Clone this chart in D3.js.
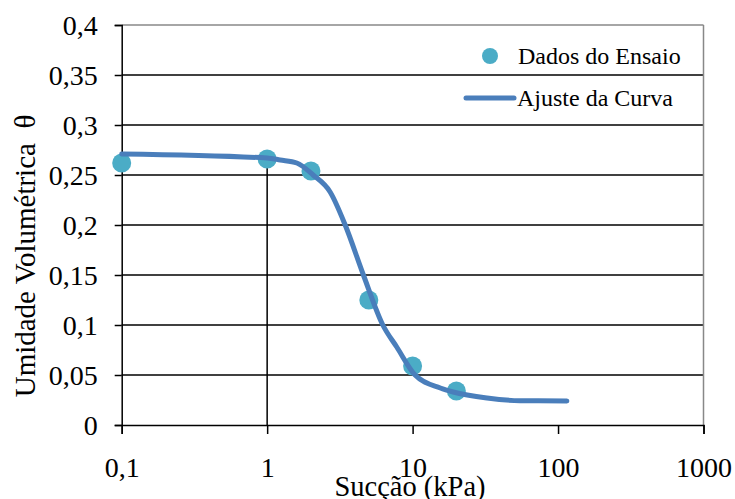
<!DOCTYPE html>
<html>
<head>
<meta charset="utf-8">
<script src="https://cdn.jsdelivr.net/npm/d3@7"></script>
<style>
  html, body { margin: 0; padding: 0; background: #fff; }
  svg { display: block; }
</style>
</head>
<body>
<svg id="chart" width="735" height="499"></svg>
<script>
// Measured soil-water retention points
const suctionData = [0.1, 1, 2, 5, 10, 20];
const thetaData = [0.262, 0.266, 0.254, 0.125, 0.059, 0.034];

// Fitted retention curve (suction in kPa, volumetric water content)
const fitSuction = [0.1, 1, 1.23, 1.6, 2.07, 2.71, 3.44, 4.59, 6.24, 7.78, 10.4, 15.5, 19, 32.5, 54.8, 115];
const fitTheta = [0.271, 0.267, 0.265, 0.262, 0.25, 0.233, 0.2, 0.15, 0.1, 0.078, 0.05, 0.037, 0.033, 0.027, 0.0243, 0.024];

// Axis ticks
const xTicks = [0.1, 1, 10, 100, 1000];
const xTickLabels = ["0,1", "1", "10", "100", "1000"];
const yTicks = [0, 0.05, 0.1, 0.15, 0.2, 0.25, 0.3, 0.35, 0.4];
const yTickLabels = ["0", "0,05", "0,1", "0,15", "0,2", "0,25", "0,3", "0,35", "0,4"];

const legendLabels = ["Dados do Ensaio", "Ajuste da Curva"];

const serif = '"Liberation Serif"';

const svg = d3.select("#chart");
const m = { left: 121.7, right: 703.5, top: 25, bottom: 425 };

const x = d3.scaleLog().domain([0.1, 1000]).range([m.left, m.right]);
const y = d3.scaleLinear().domain([0, 0.4]).range([m.bottom, m.top]);

const markerColor = "#4BACC6";
const lineColor = "#4A7EBB";

// Horizontal gridlines
svg.append("g")
  .selectAll("line")
  .data(yTicks.filter(d => d > 0))
  .join("line")
  .attr("x1", m.left).attr("x2", m.right)
  .attr("y1", d => y(d)).attr("y2", d => y(d))
  .attr("stroke", d => d === 0.4 ? "#888" : "#000")
  .attr("stroke-width", 1.5);

// Right border of the plot area
svg.append("line")
  .attr("x1", m.right).attr("x2", m.right)
  .attr("y1", m.top).attr("y2", m.bottom)
  .attr("stroke", "#888").attr("stroke-width", 1.5);

// Y axis
const yAxis = svg.append("g")
  .attr("transform", `translate(${m.left},0)`)
  .call(d3.axisLeft(y).tickValues(yTicks)
    .tickFormat((d, i) => yTickLabels[i]).tickSize(7).tickPadding(3));
yAxis.select(".domain").attr("stroke", "#000").attr("stroke-width", 1.5);
yAxis.selectAll(".tick line").attr("stroke", "#000").attr("stroke-width", 1.5);
yAxis.selectAll(".tick text")
  .style("font-family", serif)
  .style("font-size", "28px")
  .attr("fill", "#000")
  .attr("dy", "0.34em")
  .attr("x", -24);

// X axis
const xAxis = svg.append("g")
  .attr("transform", `translate(0,${m.bottom})`)
  .call(d3.axisBottom(x).tickValues(xTicks)
    .tickFormat((d, i) => xTickLabels[i]).tickSize(9).tickPadding(3));
xAxis.select(".domain").attr("stroke", "#000").attr("stroke-width", 1.5);
xAxis.selectAll(".tick line").attr("stroke", "#000").attr("stroke-width", 1.5);
xAxis.selectAll(".tick text")
  .style("font-family", serif)
  .style("font-size", "28px")
  .attr("fill", "#000")
  .attr("dy", 0)
  .attr("y", 52);

// Drop line under the point at 1 kPa
svg.append("line")
  .attr("x1", x(suctionData[1])).attr("x2", x(suctionData[1]))
  .attr("y1", y(thetaData[1])).attr("y2", y(0))
  .attr("stroke", "#000").attr("stroke-width", 1.5);

// Data markers
svg.append("g")
  .selectAll("circle")
  .data(suctionData.map((s, i) => [s, thetaData[i]]))
  .join("circle")
  .attr("cx", d => x(d[0]))
  .attr("cy", d => y(d[1]))
  .attr("r", 9.5)
  .attr("fill", markerColor);

// Fitted curve
const line = d3.line()
  .x(d => x(d[0]))
  .y(d => y(d[1]))
  .curve(d3.curveMonotoneX);
svg.append("path")
  .datum(fitSuction.map((s, i) => [s, fitTheta[i]]))
  .attr("d", line)
  .attr("fill", "none")
  .attr("stroke", lineColor)
  .attr("stroke-width", 5)
  .attr("stroke-linecap", "round");

// Legend
const lg = svg.append("g");
lg.append("circle").attr("cx", 490).attr("cy", 56).attr("r", 8).attr("fill", markerColor);
lg.append("text").attr("x", 518).attr("y", 64)
  .style("font-family", serif).style("font-size", "24px").text(legendLabels[0]);
lg.append("line").attr("x1", 466).attr("x2", 514).attr("y1", 98).attr("y2", 98)
  .attr("stroke", lineColor).attr("stroke-width", 5).attr("stroke-linecap", "round");
lg.append("text").attr("x", 517).attr("y", 106)
  .style("font-family", serif).style("font-size", "24px").text(legendLabels[1]);

// Axis titles
svg.append("text")
  .attr("x", 410).attr("y", 496)
  .attr("text-anchor", "middle")
  .style("font-family", serif)
  .style("font-size", "28.5px")
  .text("Sucção (kPa)");

svg.append("text")
  .attr("transform", "translate(35,256) rotate(-90)")
  .attr("text-anchor", "middle")
  .style("font-family", serif)
  .style("font-size", "29px")
  .style("white-space", "pre")
  .text("Umidade Volumétrica  θ");
</script>
</body>
</html>
